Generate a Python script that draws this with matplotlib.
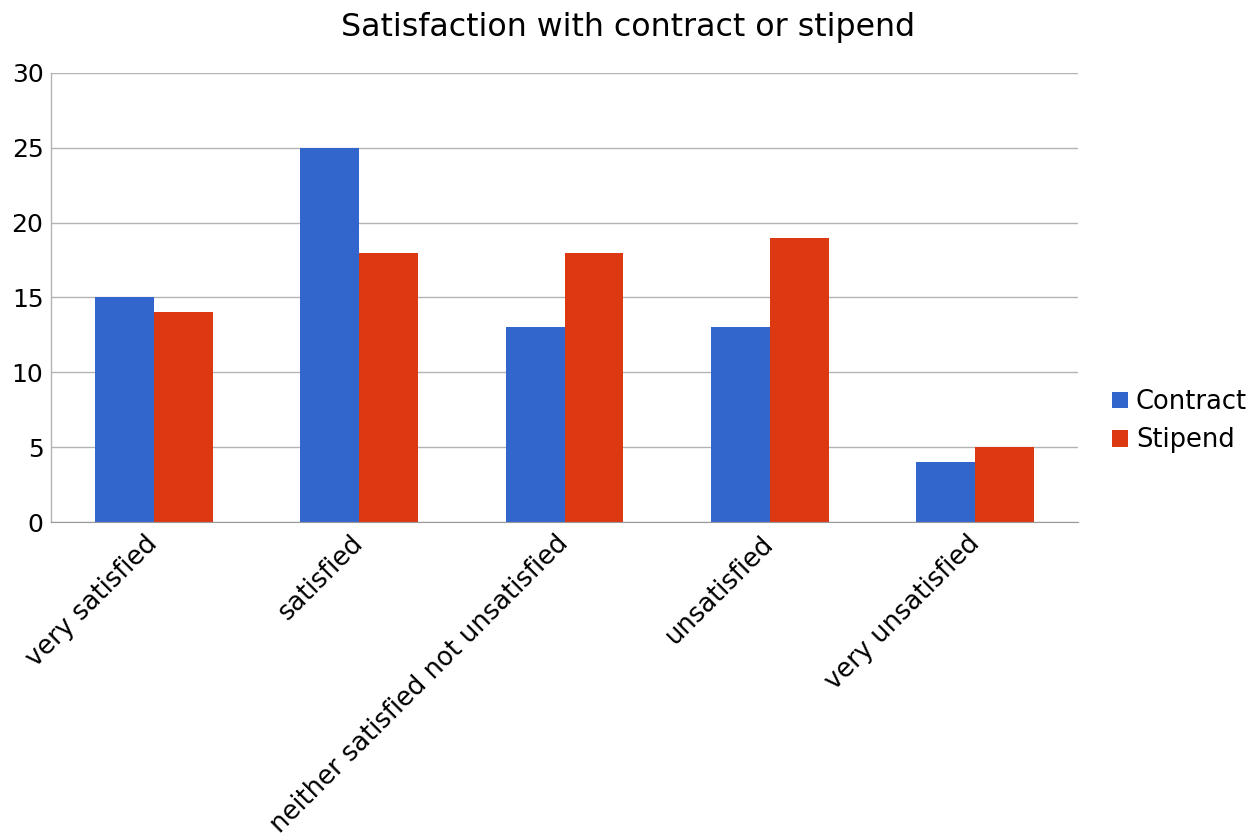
import numpy as np
import matplotlib
matplotlib.use("Agg")
import matplotlib.pyplot as plt
import matplotlib.transforms as mtransforms
from matplotlib.patches import Patch

# satisfaction survey counts
categories = ["very satisfied", "satisfied", "neither satisfied not unsatisfied",
              "unsatisfied", "very unsatisfied"]
contract = [15, 25, 13, 13, 4]
stipend = [14, 18, 18, 19, 5]
y_ticks = [0, 5, 10, 15, 20, 25, 30]

BLUE = "#3366cc"
RED = "#dc3912"
GRID = "#b3b3b3"

fig = plt.figure(figsize=(12.57, 8.34), dpi=100)
ax = fig.add_axes([0.0406, 0.3741, 0.8170, 0.5384])

x = np.arange(len(categories))
w = 0.287
ax.bar(x - w / 2, contract, width=w, color=BLUE, zorder=2)
ax.bar(x + w / 2, stipend, width=w, color=RED, zorder=2)

ax.set_xlim(-0.5, len(categories) - 0.5)
ax.set_ylim(0, 30)
ax.set_yticks(y_ticks)
ax.tick_params(axis="y", length=0, labelsize=18, pad=5.5)
ax.tick_params(axis="x", length=0, labelsize=18.5, pad=4)
ax.set_xticks(x)
ax.set_xticklabels(categories, rotation=45, ha="right", rotation_mode="anchor")
# nudge the slanted labels so their ends sit under the group centre
shift = mtransforms.ScaledTranslation(-0.09, -0.03, fig.dpi_scale_trans)
for lbl in ax.get_xticklabels():
    lbl.set_transform(lbl.get_transform() + shift)
ax.yaxis.grid(True, color=GRID, linewidth=1, zorder=0)

for side in ["top", "right"]:
    ax.spines[side].set_visible(False)
ax.spines["left"].set_color(GRID)
ax.spines["bottom"].set_color("#999999")
ax.spines["left"].set_linewidth(1)

fig.suptitle("Satisfaction with contract or stipend", fontsize=22.8,
             x=0.5, y=0.986, va="top")

handles = [Patch(facecolor=BLUE, label="Contract"),
           Patch(facecolor=RED, label="Stipend")]
fig.legend(handles=handles, loc="center left", bbox_to_anchor=(0.8846, 0.495),
           frameon=False, fontsize=18.5, handlelength=0.62, handleheight=0.62,
           handletextpad=0.31, labelspacing=0.48, borderpad=0, borderaxespad=0)

fig.savefig("out.png", dpi=100)
